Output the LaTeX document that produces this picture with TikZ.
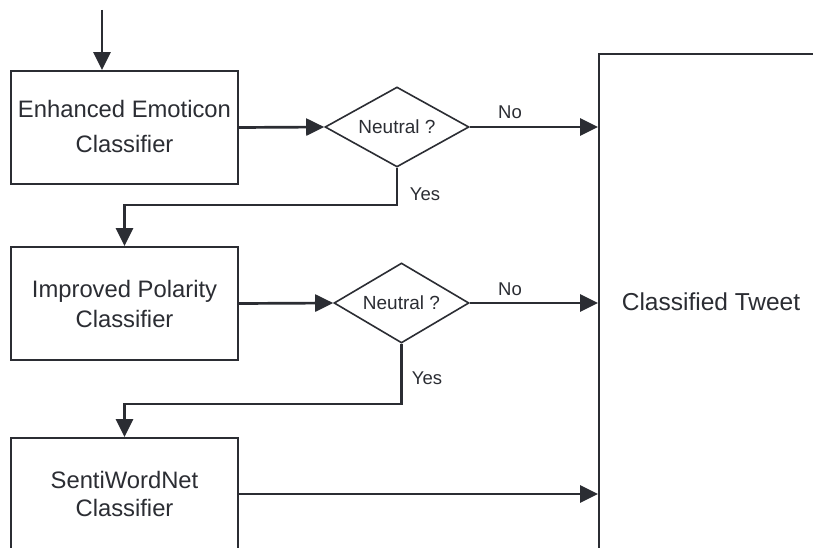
\documentclass[tikz,border=0pt]{standalone}
\usepackage{fontspec}
\setmainfont{Liberation Sans}
\usetikzlibrary{shapes.geometric,arrows.meta}
\definecolor{ink}{HTML}{2B2D33}
\begin{document}
\begin{tikzpicture}[x=1pt,y=-1pt,
  boxnode/.style={draw=ink,line width=1.8pt,rectangle,minimum width=227pt,inner sep=0pt,align=center,text=ink,font=\fontsize{23.8}{35}\selectfont},
  decnode/.style={draw=ink,line width=1.6pt,diamond,aspect=2,inner sep=0pt,text=ink,font=\fontsize{19}{22}\selectfont},
  flow/.style={draw=ink,line width=2.7pt,-{Triangle[length=18pt,width=17pt]}},
  lbl/.style={text=ink,font=\fontsize{18.5}{22}\selectfont,inner sep=0pt}]
\useasboundingbox (0,0) rectangle (813,548);
\fill[white] (0,0) rectangle (813,548);
\clip (0,0) rectangle (813,548);
\node[boxnode,minimum height=113pt] (b1) at (124.5,127.5) {\raisebox{3pt}{Enhanced Emoticon}\\\raisebox{3pt}{Classifier}};
\node[boxnode,minimum height=113pt,font=\fontsize{23.8}{30}\selectfont] (b2) at (124.5,303.5) {Improved Polarity\\Classifier};
\node[boxnode,minimum height=112pt,font=\fontsize{23.8}{28}\selectfont] (b3) at (124.5,494) {SentiWordNet\\Classifier};
\node[draw=ink,line width=1.8pt,rectangle,minimum width=224pt,minimum height=496pt,inner sep=0pt,text=ink,font=\fontsize{24.5}{28}\selectfont] (ct) at (711,302) {Classified Tweet};
\node[decnode,minimum width=144pt,minimum height=80pt] (d1) at (397,127) {Neutral ?};
\node[decnode,minimum width=135pt,minimum height=80pt] (d2) at (401.5,303) {Neutral ?};
\coordinate (in) at (102,10);
\draw[flow] (in) -- (in |- b1.north);
\draw[flow] (b1.east) -- (d1.west);
\draw[flow] (d1.east) -- (d1.east -| ct.west);
\draw[flow] (d1.south) |- (124.5,205) -- (b2.north);
\draw[flow] (b2.east) -- (d2.west);
\draw[flow] (d2.east) -- (d2.east -| ct.west);
\draw[flow] (d2.south) |- (124.5,404) -- (b3.north);
\draw[flow] (b3.east) -- (b3.east -| ct.west);
\node[lbl] (no1) at (510,112) {No};
\node[lbl] (yes1) at (425,194) {Yes};
\node[lbl] (no2) at (510,289) {No};
\node[lbl] (yes2) at (427,378) {Yes};
\end{tikzpicture}
\end{document}
